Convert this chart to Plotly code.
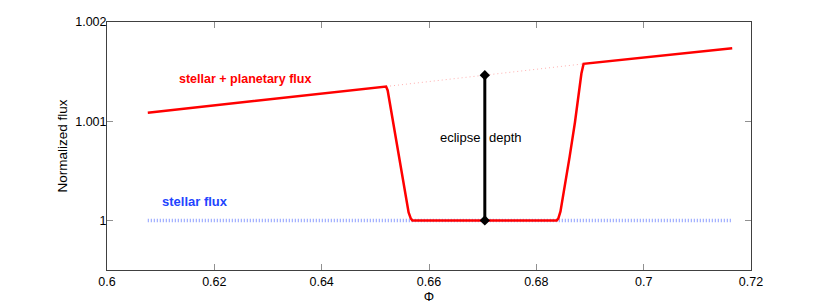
import plotly.graph_objects as go

# Data
phase = [0.6076, 0.6520, 0.6523, 0.6528, 0.6535, 0.6545, 0.6555, 0.6562, 0.6566, 0.6569,
         0.6838, 0.6841, 0.6845, 0.6852, 0.6862, 0.6872, 0.6880, 0.6884, 0.6888, 0.7165]
total_flux = [1.001085, 1.001350, 1.001310, 1.001150, 1.000900, 1.000580, 1.000260, 1.000080, 1.000020, 1.000000,
              1.000000, 1.000020, 1.000090, 1.000300, 1.000640, 1.000990, 1.001300, 1.001480, 1.001578, 1.001736]
occulted_phase = [0.6520, 0.6888]
occulted_flux = [1.001350, 1.001578]
stellar_phase = [0.6076, 0.7165]
stellar_flux = [1.0, 1.0]
depth_phase = [0.6704, 0.6704]
depth_flux = [1.0, 1.001464]

xticks = [0.6, 0.62, 0.64, 0.66, 0.68, 0.7, 0.72]
xtick_text = ["0.6", "0.62", "0.64", "0.66", "0.68", "0.7", "0.72"]
yticks = [1.0, 1.001, 1.002]
ytick_text = ["1", "1.001", "1.002"]

FONT = "Liberation Sans, Arial, Helvetica, sans-serif"

fig = go.Figure()
fig.add_trace(go.Scatter(x=stellar_phase, y=stellar_flux, mode="lines",
                         line=dict(color="#8c9eff", width=3.5, dash="1px,2px"),
                         hoverinfo="skip"))
fig.add_trace(go.Scatter(x=occulted_phase, y=occulted_flux, mode="lines",
                         line=dict(color="#ffb0b0", width=1, dash="1px,3px"),
                         hoverinfo="skip"))
fig.add_trace(go.Scatter(x=phase, y=total_flux, mode="lines",
                         line=dict(color="#ff0000", width=2.5),
                         hoverinfo="skip"))
fig.add_trace(go.Scatter(x=depth_phase, y=depth_flux, mode="lines+markers",
                         line=dict(color="black", width=3),
                         marker=dict(symbol="diamond", size=8, color="black"),
                         hoverinfo="skip"))

fig.add_annotation(x=0.6130, y=1.00143, text="<b>stellar + planetary flux</b>",
                   showarrow=False, xanchor="left", yanchor="middle",
                   font=dict(color="#ff0000", size=12.5, family=FONT))
fig.add_annotation(x=0.6098, y=1.00019, text="<b>stellar flux</b>",
                   showarrow=False, xanchor="left", yanchor="middle",
                   font=dict(color="#2244ff", size=13, family=FONT))
fig.add_annotation(x=0.6699, y=1.000835, text="eclipse",
                   showarrow=False, xanchor="right", yanchor="middle",
                   font=dict(color="black", size=13, family=FONT))
fig.add_annotation(x=0.6708, y=1.000835, text="depth",
                   showarrow=False, xanchor="left", yanchor="middle",
                   font=dict(color="black", size=13, family=FONT))

axis_common = dict(showgrid=False, zeroline=False, showline=True, linecolor="#404040",
                   linewidth=1, mirror="ticks", ticks="inside", ticklen=6,
                   tickcolor="#909090", automargin=False,
                   tickfont=dict(size=12.5, family=FONT, color="black"))

fig.update_xaxes(range=[0.6, 0.72], tickvals=xticks, ticktext=xtick_text,
                 title=dict(text="Φ", font=dict(size=13, family=FONT, color="black"), standoff=0),
                 **axis_common)
fig.update_yaxes(range=[0.9995, 1.002], tickvals=yticks, ticktext=ytick_text,
                 ticklabelstandoff=-3,
                 title=dict(text="Normalized flux", font=dict(size=13.5, family=FONT, color="black"), standoff=4),
                 **axis_common)

fig.update_layout(width=822, height=296, showlegend=False,
                  margin=dict(l=99, r=79, t=14, b=34),
                  plot_bgcolor="white", paper_bgcolor="white",
                  font=dict(family=FONT))

fig.write_html("out.html")
